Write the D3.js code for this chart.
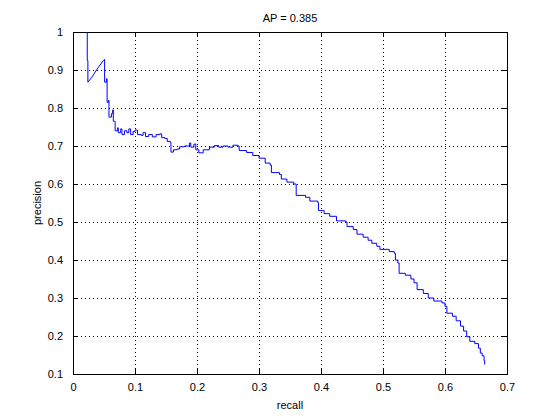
<!DOCTYPE html>
<html>
<head>
<meta charset="utf-8">
<script src="https://cdn.jsdelivr.net/npm/d3@7"></script>
<style>
  body { margin: 0; background: #fff; }
  text { font-family: "Liberation Sans", Arial, sans-serif; font-size: 11px; fill: #000; }
</style>
</head>
<body>
<svg id="chart" width="560" height="420"></svg>
<script>
// Values
const recall = [0.023, 0.023, 0.024, 0.024, 0.030, 0.040, 0.049, 0.051, 0.051, 0.054,
  0.055, 0.055, 0.057, 0.058, 0.062, 0.064, 0.065, 0.067, 0.068, 0.072,
  0.073, 0.077, 0.079, 0.083, 0.087, 0.090, 0.093, 0.097, 0.100, 0.104,
  0.110, 0.113, 0.117, 0.122, 0.128, 0.134, 0.140, 0.143, 0.148, 0.152,
  0.157, 0.158, 0.162, 0.168, 0.172, 0.180, 0.188, 0.190, 0.195, 0.198,
  0.203, 0.210, 0.220, 0.228, 0.235, 0.242, 0.250, 0.258, 0.266, 0.268,
  0.280, 0.290, 0.300, 0.310, 0.318, 0.320, 0.333, 0.336, 0.345, 0.356,
  0.360, 0.375, 0.382, 0.395, 0.396, 0.405, 0.414, 0.425, 0.440, 0.442,
  0.452, 0.458, 0.468, 0.476, 0.482, 0.490, 0.495, 0.510, 0.518, 0.520,
  0.524, 0.526, 0.536, 0.545, 0.550, 0.555, 0.565, 0.573, 0.582, 0.595,
  0.600, 0.603, 0.612, 0.618, 0.625, 0.630, 0.635, 0.640, 0.648, 0.654,
  0.657, 0.660, 0.663, 0.664];
const precision = [1.000, 0.925, 0.925, 0.868, 0.880, 0.905, 0.925, 0.928, 0.868, 0.877,
  0.877, 0.815, 0.820, 0.776, 0.785, 0.795, 0.765, 0.765, 0.740, 0.748,
  0.735, 0.745, 0.730, 0.740, 0.735, 0.745, 0.730, 0.738, 0.742, 0.730,
  0.728, 0.735, 0.725, 0.730, 0.724, 0.730, 0.732, 0.722, 0.720, 0.712,
  0.710, 0.684, 0.690, 0.692, 0.698, 0.700, 0.708, 0.697, 0.705, 0.690,
  0.682, 0.690, 0.697, 0.701, 0.697, 0.700, 0.697, 0.702, 0.700, 0.688,
  0.683, 0.675, 0.668, 0.655, 0.650, 0.630, 0.625, 0.613, 0.605, 0.600,
  0.570, 0.565, 0.555, 0.550, 0.530, 0.522, 0.515, 0.503, 0.500, 0.488,
  0.480, 0.468, 0.460, 0.452, 0.444, 0.436, 0.428, 0.422, 0.418, 0.400,
  0.392, 0.365, 0.360, 0.350, 0.340, 0.322, 0.312, 0.300, 0.292, 0.287,
  0.278, 0.260, 0.252, 0.240, 0.226, 0.213, 0.198, 0.186, 0.180, 0.168,
  0.155, 0.148, 0.135, 0.125];
const xTicks = [0, 0.1, 0.2, 0.3, 0.4, 0.5, 0.6, 0.7];
const yTicks = [0.1, 0.2, 0.3, 0.4, 0.5, 0.6, 0.7, 0.8, 0.9, 1];
const titleText = "AP = 0.385";

// MATLAB-style axes box
const margin = { top: 32, right: 53, bottom: 46, left: 73 };
const width = 560 - margin.left - margin.right;
const height = 420 - margin.top - margin.bottom;

const svg = d3.select("#chart")
  .append("g")
  .attr("transform", "translate(" + margin.left + "," + margin.top + ")");

const x = d3.scaleLinear().domain([0, 0.7]).range([0, width]);
const y = d3.scaleLinear().domain([0.1, 1]).range([height, 0]);

// dotted grid
svg.append("g")
  .selectAll("line")
  .data(xTicks.slice(1, -1))
  .join("line")
  .attr("x1", d => Math.round(x(d)) + 0.5).attr("x2", d => Math.round(x(d)) + 0.5)
  .attr("y1", 0).attr("y2", height)
  .attr("stroke", "#000").attr("stroke-dasharray", "1,3");

svg.append("g")
  .selectAll("line")
  .data(yTicks.slice(1, -1))
  .join("line")
  .attr("y1", d => Math.round(y(d)) + 0.5).attr("y2", d => Math.round(y(d)) + 0.5)
  .attr("x1", 0).attr("x2", width)
  .attr("stroke", "#000").attr("stroke-dasharray", "1,3");

// axes with inward ticks on all four sides
const fmt = d => d3.format("")(+d.toFixed(1));
const axes = [
  svg.append("g").attr("transform", "translate(0," + height + ")")
    .call(d3.axisBottom(x).tickValues(xTicks).tickSize(-5).tickPadding(9).tickFormat(fmt)),
  svg.append("g")
    .call(d3.axisLeft(y).tickValues(yTicks).tickSize(-5).tickPadding(10).tickFormat(fmt)),
  svg.append("g")
    .call(d3.axisTop(x).tickValues(xTicks).tickSize(-5).tickFormat("")),
  svg.append("g").attr("transform", "translate(" + width + ",0)")
    .call(d3.axisRight(y).tickValues(yTicks).tickSize(-5).tickFormat(""))
];
axes.forEach(g => {
  g.select(".domain").attr("stroke", "#000");
  g.selectAll(".tick line").attr("stroke", "#000");
  g.selectAll("text").attr("font-size", null).attr("font-family", null);
  g.attr("font-size", null).attr("font-family", null);
});

// precision-recall curve: straight segments at the start, staircase afterwards
const pts = recall.map((r, i) => [r, precision[i]]);
const split = 9;
const lineFn = d3.line().x(d => x(d[0])).y(d => y(d[1]));
svg.append("path")
  .datum(pts.slice(0, split))
  .attr("fill", "none")
  .attr("stroke", "#0000ff")
  .attr("d", lineFn);
svg.append("path")
  .datum(pts.slice(split - 1))
  .attr("fill", "none")
  .attr("stroke", "#0000ff")
  .attr("d", lineFn.curve(d3.curveStepAfter));

// labels
svg.append("text")
  .attr("x", width / 2).attr("y", -10)
  .attr("text-anchor", "middle")
  .text(titleText);

svg.append("text")
  .attr("x", width / 2).attr("y", height + 35)
  .attr("text-anchor", "middle")
  .text("recall");

svg.append("text")
  .attr("transform", "translate(-32," + height / 2 + ") rotate(-90)")
  .attr("text-anchor", "middle")
  .text("precision");
</script>
</body>
</html>
